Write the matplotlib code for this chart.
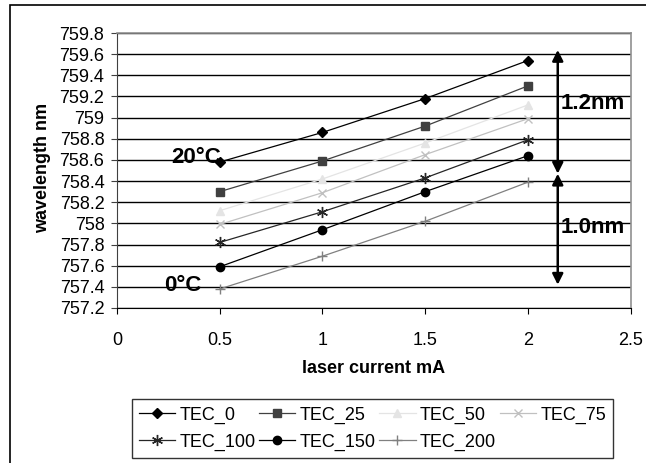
import matplotlib
matplotlib.use("Agg")
import matplotlib.pyplot as plt
from matplotlib.patches import Rectangle
from matplotlib.ticker import FuncFormatter

plt.rcParams['font.family'] = ['Liberation Sans', 'DejaVu Sans']

current = [0.5, 1.0, 1.5, 2.0]
series_names = ['TEC_0', 'TEC_25', 'TEC_50', 'TEC_75', 'TEC_100', 'TEC_150', 'TEC_200']
tec_0 = [758.58, 758.86, 759.18, 759.54]
tec_25 = [758.30, 758.59, 758.92, 759.30]
tec_50 = [758.12, 758.42, 758.76, 759.12]
tec_75 = [757.99, 758.29, 758.65, 758.99]
tec_100 = [757.82, 758.11, 758.43, 758.79]
tec_150 = [757.59, 757.94, 758.30, 758.64]
tec_200 = [757.38, 757.69, 758.02, 758.39]
series_values = [tec_0, tec_25, tec_50, tec_75, tec_100, tec_150, tec_200]

# style per series: (color, marker, markersize)
styles = [
    ('black', 'D', 5),
    ('#404040', 's', 6),
    ('#e4e4e4', '^', 6),
    ('#c0c0c0', 'x', 6),
    ('#262626', (6, 2, 0), 8),
    ('black', 'o', 6),
    ('#808080', '+', 7),
]

fig = plt.figure(figsize=(6.46, 4.63), dpi=100)
ax = fig.add_axes([117/646, 1-308/463, (630.7-117)/646, (308-33)/463])

lines = []
for name, vals, (col, mk, ms) in zip(series_names, series_values, styles):
    ln, = ax.plot(current, vals, color=col, marker=mk, markersize=ms, lw=0.9,
                  markeredgecolor=col, markerfacecolor=col, markeredgewidth=1.0,
                  label=name, zorder=3)
    lines.append(ln)

ax.set_xlim(0, 2.5)
ax.set_ylim(757.2, 759.8)
ax.set_xticks([0, 0.5, 1, 1.5, 2, 2.5])
ax.set_yticks([757.2 + 0.2*i for i in range(14)])
ax.xaxis.set_major_formatter(FuncFormatter(lambda v, p: '%g' % round(v, 1)))
ax.yaxis.set_major_formatter(FuncFormatter(lambda v, p: '%g' % round(v, 1)))
ax.tick_params(axis='y', direction='out', length=4, pad=5, labelsize=13, color='#404040')
ax.tick_params(axis='x', direction='out', length=4, pad=13, labelsize=13)
ax.yaxis.grid(True, color='black', lw=1.0)
ax.set_axisbelow(True)
for s in ['top', 'right']:
    ax.spines[s].set_color('#909090')
    ax.spines[s].set_linewidth(1.2)
ax.spines['left'].set_color('#404040')
ax.spines['bottom'].set_color('black')

ax.set_xlabel('laser current mA', fontsize=13, fontweight='bold')
ax.xaxis.set_label_coords(0.5, -0.19)
ax.set_ylabel('wavelength nm', fontsize=13, fontweight='bold')
ax.yaxis.set_label_coords(-0.128, 0.51)

# temperature labels
ax.text(0.505, 758.62, '20°C', fontsize=16, fontweight='bold', ha='right', va='center', zorder=2)
ax.text(0.413, 757.41, '0°C', fontsize=16, fontweight='bold', ha='right', va='center', zorder=2)

# span arrows
arr = dict(arrowstyle='<|-|>', color='black', lw=1.8, mutation_scale=16, shrinkA=0, shrinkB=0)
ax.annotate('', xy=(2.145, 759.64), xytext=(2.145, 758.47), arrowprops=arr)
ax.annotate('', xy=(2.145, 758.47), xytext=(2.145, 757.42), arrowprops=arr)
ax.text(2.16, 759.135, '1.2nm', fontsize=16, fontweight='bold', ha='left', va='center')
ax.text(2.16, 757.96, '1.0nm', fontsize=16, fontweight='bold', ha='left', va='center')

# legend, row-major order for 4 columns
order = [0, 4, 1, 5, 2, 6, 3]
leg = fig.legend([lines[i] for i in order], [series_names[i] for i in order],
                 ncol=4, loc='center', bbox_to_anchor=((131+614)/2/646, 1-(400+457)/2/463),
                 bbox_transform=fig.transFigure, fontsize=13, frameon=True, fancybox=False,
                 edgecolor='black', handlelength=2.0, handletextpad=0.25, columnspacing=0.2,
                 labelspacing=0.55, borderpad=0.4, borderaxespad=0)
leg.get_frame().set_linewidth(1.0)

# outer chart frame
fig.patches.append(Rectangle((10/646, -0.01), 1.0, 1-4.5/463+0.01, transform=fig.transFigure,
                             fill=False, edgecolor='black', lw=1.2))

fig.savefig('out.png', dpi=100)
